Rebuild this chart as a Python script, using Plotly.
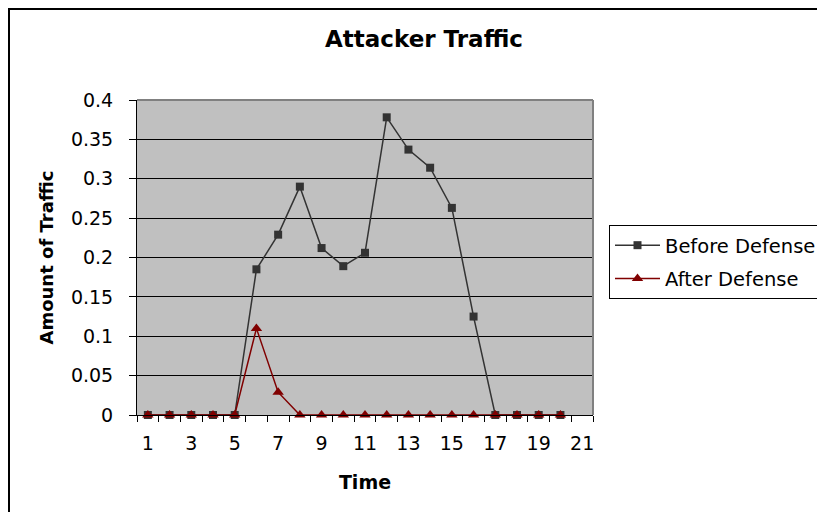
import plotly.graph_objects as go

times = list(range(1, 21))
before_defense = [0, 0, 0, 0, 0, 0.185, 0.229, 0.290, 0.212, 0.189, 0.206,
                  0.378, 0.337, 0.314, 0.263, 0.125, 0, 0, 0, 0]
after_defense = [0, 0, 0, 0, 0, 0.110, 0.029, 0, 0, 0, 0,
                 0, 0, 0, 0, 0, 0, 0, 0, 0]
x_tick_vals = list(range(1, 22, 2))
x_boundaries = [i + 0.5 for i in range(0, 22)]

FONT = "DejaVu Sans"
OFF = 8  # page body margin offset
W, H = 825 - OFF, 512 - OFF
PL, PR, PT, PB = 137 - OFF, 593 - OFF, 100 - OFF, 415 - OFF
PW, PH = PR - PL, PB - PT

def px_x(x):
    return (x - OFF - PL) / PW

def px_y(y):
    return (PB - (y - OFF)) / PH

fig = go.Figure()
fig.add_trace(go.Scatter(
    x=times, y=before_defense, name="Before Defense", mode="lines+markers",
    line=dict(color="#333333", width=1.5),
    marker=dict(symbol="square", size=8, color="#333333"),
    cliponaxis=False, legendgroup="a"))
fig.add_trace(go.Scatter(
    x=times, y=after_defense, name="After Defense", mode="lines+markers",
    line=dict(color="#800000", width=1.5),
    marker=dict(symbol="triangle-up", size=10, color="#800000"),
    cliponaxis=False, legendgroup="b"))

fig.update_layout(
    width=W, height=H,
    margin=dict(l=PL, r=W - PR, t=PT, b=H - PB, autoexpand=False),
    paper_bgcolor="white", plot_bgcolor="#C0C0C0",
    font=dict(family=FONT, color="black", size=19),
    title=dict(text="<b>Attacker Traffic</b>", x=(424 - OFF) / W, xref="container",
               xanchor="center", y=1 - (39 - OFF) / H, yref="container", yanchor="middle",
               font=dict(size=23, family=FONT)),
    showlegend=True,
    legend=dict(x=px_x(609), y=px_y(225), xanchor="left", yanchor="top",
                bordercolor="black", borderwidth=1, bgcolor="white",
                font=dict(size=19.5, family=FONT), traceorder="grouped",
                tracegroupgap=5, itemwidth=45),
    xaxis=dict(range=[0.5, 21.5], tickvals=x_tick_vals,
               ticktext=[str(v) for v in x_tick_vals],
               ticks="", showgrid=False, zeroline=False,
               showline=True, linecolor="black", linewidth=1,
               ticklabelstandoff=11,
               minor=dict(tickvals=x_boundaries, ticks="outside", ticklen=6,
                          tickcolor="black", tickwidth=1, showgrid=False),
               title=dict(text="<b>Time</b>", font=dict(size=19, family=FONT),
                          standoff=22)),
    yaxis=dict(range=[0, 0.4], dtick=0.05, tick0=0,
               showgrid=True, gridcolor="black", gridwidth=1, zeroline=False,
               showline=True, linecolor="black", linewidth=1,
               ticks="outside", ticklen=7, tickcolor="black",
               ticklabelstandoff=12,
               title=dict(text="<b>Amount of Traffic</b>",
                          font=dict(size=18, family=FONT), standoff=12)),
    shapes=[
        dict(type="line", xref="paper", yref="paper", x0=0, x1=1, y0=1, y1=1,
             line=dict(color="#808080", width=2), layer="above"),
        dict(type="line", xref="paper", yref="paper", x0=1, x1=1, y0=0, y1=1,
             line=dict(color="#808080", width=2), layer="above"),
        dict(type="rect", xref="paper", yref="paper",
             x0=px_x(9), x1=1.7, y0=-0.4, y1=px_y(9),
             line=dict(color="black", width=2), layer="below"),
    ],
)

fig.write_html("out.html")
